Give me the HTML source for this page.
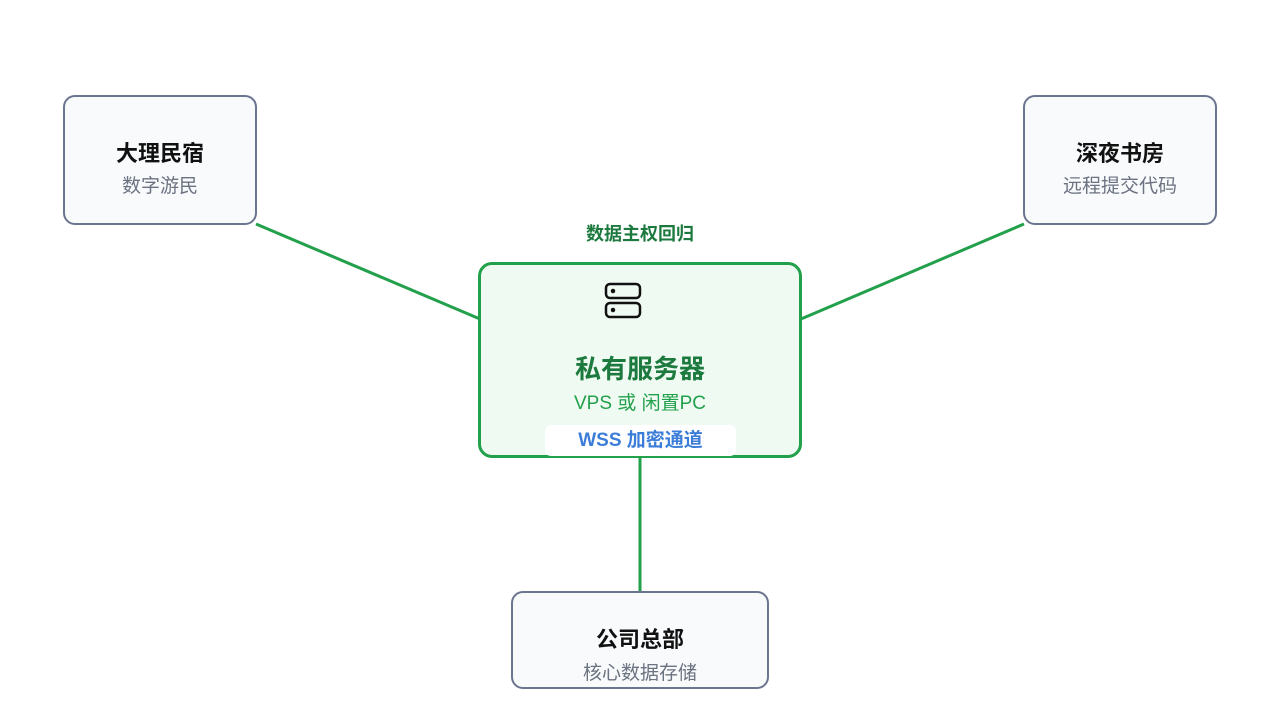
<!DOCTYPE html>
<html><head><meta charset="utf-8"><style>
body{margin:0;width:1280px;height:720px;background:#fff;position:relative;overflow:hidden;font-family:"Liberation Sans","Noto Sans CJK SC",sans-serif}
.n{position:absolute;box-sizing:border-box;border:2.5px solid #6b7590;border-radius:12px;background:#f8fafc;text-align:center}
.t{font-size:22px;font-weight:bold;color:#111;line-height:26px}
.s{font-size:19px;color:#6b7280;line-height:22px}
</style></head><body>
<svg width="1280" height="720" style="position:absolute;left:0;top:0">
<g stroke="#22a04b" stroke-width="3">
<line x1="256" y1="224" x2="480" y2="319"/>
<line x1="1024" y1="224" x2="801" y2="319"/>
<line x1="640" y1="457" x2="640" y2="592"/>
</g></svg>
<div class="n" style="left:63px;top:95px;width:194px;height:130px"><div class="t" style="margin-top:44px">大理民宿</div><div class="s" style="margin-top:9px">数字游民</div></div>
<div class="n" style="left:1023px;top:95px;width:194px;height:130px"><div class="t" style="margin-top:44px">深夜书房</div><div class="s" style="margin-top:9px">远程提交代码</div></div>
<div class="n" style="left:511px;top:591px;width:258px;height:98px"><div class="t" style="margin-top:34px">公司总部</div><div class="s" style="margin-top:10px">核心数据存储</div></div>
<div style="position:absolute;left:480px;top:220px;width:320px;text-align:center;font-size:18px;font-weight:bold;color:#1d7a3e">数据主权回归</div>
<div style="position:absolute;left:478px;top:262px;width:324px;height:196px;box-sizing:border-box;border:3.5px solid #22a04b;border-radius:14px;background:#effbf2;text-align:center">
<svg width="40" height="40" style="position:absolute;left:122px;top:16px" fill="none" stroke="#111" stroke-width="2.5"><rect x="3" y="3" width="34" height="14" rx="4"/><rect x="3" y="22" width="34" height="14" rx="4"/><circle cx="10" cy="10" r="1" fill="#111"/><circle cx="10" cy="29" r="1" fill="#111"/></svg>
<div style="position:absolute;left:0;right:0;top:84px;font-size:26px;font-weight:bold;color:#1d7a3e">私有服务器</div>
<div style="position:absolute;left:0;right:0;top:123px;font-size:19px;color:#22a04b">VPS 或 闲置PC</div>
<div style="position:absolute;left:64px;top:160px;width:191px;height:31px;background:#fff;border-radius:6px;font-size:19px;font-weight:bold;color:#3b7dd8;line-height:31px">WSS 加密通道</div>
</div>
</body></html>
